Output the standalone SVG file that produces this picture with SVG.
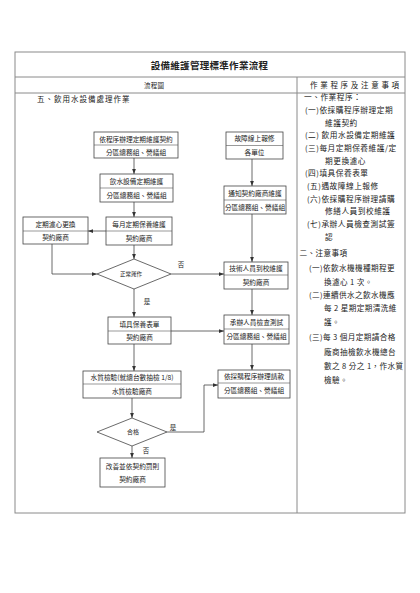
<svg xmlns="http://www.w3.org/2000/svg" width="420" height="593" viewBox="0 0 420 593">
<defs>
<style>
text{font-family:"Noto Sans CJK TC","Liberation Sans",sans-serif;fill:#222;}
.tbl{fill:none;stroke:#8a8a8a;stroke-width:1;}
.box{fill:#fff;stroke:#444;stroke-width:0.8;}
.div{stroke:#555;stroke-width:0.6;}
.bt{font-size:6.7px;text-anchor:middle;}
.con{fill:none;stroke:#444;stroke-width:0.8;}
.lbl{font-size:6.5px;text-anchor:middle;}
.r1{font-size:7.7px;letter-spacing:0.5px;}
.r2{font-size:7.6px;letter-spacing:0.4px;}
</style>
<marker id="arr" viewBox="0 0 8 6" refX="8" refY="3" markerWidth="5" markerHeight="4" markerUnits="userSpaceOnUse" orient="auto">
<path d="M0,0 L8,3 L0,6 z" fill="#333"/>
</marker>
</defs>
<rect width="420" height="593" fill="#fff"/>

<g id="table">
<rect class="tbl" x="15" y="52" width="390" height="461"/>
<line class="tbl" x1="15" y1="77" x2="405" y2="77"/>
<line class="tbl" x1="15" y1="93" x2="405" y2="93"/>
<line class="tbl" x1="297" y1="77" x2="297" y2="513"/>
<text x="150.7" y="68.6" style="font-size:9.5px;font-weight:bold;letter-spacing:0.3px">設備維護管理標準作業流程</text>
<text x="144" y="87.8" style="font-size:6.5px;letter-spacing:0.3px">流程圖</text>
<text x="310" y="88" style="font-size:7.5px;letter-spacing:2.7px">作業程序及注意事項</text>
<text x="37" y="102" style="font-size:7.5px;letter-spacing:1px">五、飲用水設備處理作業</text>
</g>

<g id="notes">
<text class="r1" x="304" y="100.3">一、作業程序：</text>
<text class="r1" x="305" y="113">(一)依採購程序辦理定期</text>
<text class="r1" x="325" y="125.7">維護契約</text>
<text class="r1" x="305" y="138.3">(二) 飲用水設備定期維護</text>
<text class="r1" x="305" y="151">(三)每月定期保養維護/定</text>
<text class="r1" x="325" y="163.7">期更換濾心</text>
<text class="r1" x="305" y="176.3">(四)填具保養表單</text>
<text class="r1" x="307" y="189">(五)遇故障線上報修</text>
<text class="r1" x="307" y="201.7">(六)依採購程序辦理請購</text>
<text class="r1" x="325" y="214.3">修繕人員到校維護</text>
<text class="r1" x="307" y="227">(七)承辦人員檢查測試簽</text>
<text class="r1" x="325" y="239.7">認</text>
<text class="r2" x="299.5" y="256.3">二、注意事項</text>
<text class="r2" x="309" y="271.3">(一)依飲水機機種期程更</text>
<text class="r2" x="324" y="284.7">換濾心 1 次。</text>
<text class="r2" x="309" y="298">(二)連續供水之飲水機應</text>
<text class="r2" x="324" y="311.3">每 2 星期定期清洗維</text>
<text class="r2" x="324" y="324.7">護。</text>
<text class="r2" x="309" y="340.3">(三)每 3 個月定期請合格</text>
<text class="r2" x="324" y="354.7">廠商抽檢飲水機總台</text>
<text class="r2" x="324" y="369">數之 8 分之 1，作水質</text>
<text class="r2" x="324" y="383">檢驗。</text>
</g>

<g id="connectors">
<line class="con" x1="134" y1="158" x2="134" y2="174" marker-end="url(#arr)"/>
<line class="con" x1="134" y1="202" x2="134" y2="217" marker-end="url(#arr)"/>
<line class="con" x1="106" y1="231" x2="88" y2="231" marker-end="url(#arr)"/>
<polyline class="con" points="52,244 52,274 97,274" marker-end="url(#arr)"/>
<line class="con" x1="134" y1="245" x2="134" y2="259" marker-end="url(#arr)"/>
<line class="con" x1="171" y1="274" x2="224" y2="274" marker-end="url(#arr)"/>
<line class="con" x1="134" y1="289" x2="134" y2="317" marker-end="url(#arr)"/>
<line class="con" x1="171" y1="331" x2="224" y2="331" marker-end="url(#arr)"/>
<line class="con" x1="134" y1="344" x2="134" y2="371" marker-end="url(#arr)"/>
<line class="con" x1="132" y1="398" x2="132" y2="418" marker-end="url(#arr)"/>
<polyline class="con" points="167,432 204,432 204,385 218,385" marker-end="url(#arr)"/>
<line class="con" x1="132" y1="446" x2="132" y2="458" marker-end="url(#arr)"/>
<line class="con" x1="252" y1="159" x2="252" y2="186" marker-end="url(#arr)"/>
<line class="con" x1="252" y1="214" x2="252" y2="262" marker-end="url(#arr)"/>
<line class="con" x1="252" y1="289" x2="252" y2="315" marker-end="url(#arr)"/>
<line class="con" x1="252" y1="344" x2="252" y2="370" marker-end="url(#arr)"/>
<text class="lbl" x="181" y="267">否</text>
<text class="lbl" x="147" y="304">是</text>
<text class="lbl" x="173" y="429.5">是</text>
<text class="lbl" x="146" y="452.5">否</text>
</g>

<g id="n1">
<rect class="box" x="94" y="132" width="84" height="26"/>
<line class="div" x1="94" y1="145" x2="178" y2="145"/>
<text class="bt" x="136" y="141.5">依程序辦理定期維護契約</text>
<text class="bt" x="136" y="154.5">分區總務組、營繕組</text>
</g>
<g id="n2">
<rect class="box" x="100" y="174" width="73" height="28"/>
<line class="div" x1="100" y1="188" x2="173" y2="188"/>
<text class="bt" x="136.5" y="183.5">飲水設備定期維護</text>
<text class="bt" x="136.5" y="197.5">分區總務組、營繕組</text>
</g>
<g id="n3">
<rect class="box" x="106" y="217" width="66" height="28"/>
<line class="div" x1="106" y1="231" x2="172" y2="231"/>
<text class="bt" x="139" y="226.5">每月定期保養維護</text>
<text class="bt" x="139" y="240.5">契約廠商</text>
</g>
<g id="n4">
<rect class="box" x="23" y="217" width="65" height="27"/>
<line class="div" x1="23" y1="231" x2="88" y2="231"/>
<text class="bt" x="55.5" y="226.5">定期濾心更換</text>
<text class="bt" x="55.5" y="240">契約廠商</text>
</g>
<g id="d1">
<polygon class="box" points="97,274 134,259 171,274 134,289"/>
<text x="131" y="276" style="font-size:5.5px;text-anchor:middle">正常運作</text>
</g>
<g id="n5">
<rect class="box" x="108" y="317" width="63" height="27"/>
<line class="div" x1="108" y1="331" x2="171" y2="331"/>
<text class="bt" x="139.5" y="326.5">填具保養表單</text>
<text class="bt" x="139.5" y="340">契約廠商</text>
</g>
<g id="n6">
<rect class="box" x="83" y="371" width="98" height="27"/>
<line class="div" x1="83" y1="384" x2="181" y2="384"/>
<text class="bt" x="132" y="380.3">水質檢驗(就總台數抽檢 1/8)</text>
<text class="bt" x="132" y="393.5">水質檢驗廠商</text>
</g>
<g id="d2">
<polygon class="box" points="97,432 132,418 167,432 132,446"/>
<text x="133" y="434.3" style="font-size:6px;text-anchor:middle">合格</text>
</g>
<g id="n7">
<rect class="box" x="100" y="458" width="65" height="29"/>
<text class="bt" x="132.5" y="469">改善並依契約罰則</text>
<text class="bt" x="132.5" y="481.5">契約廠商</text>
</g>
<g id="n8">
<rect class="box" x="226" y="132" width="57" height="27"/>
<line class="div" x1="226" y1="145.5" x2="283" y2="145.5"/>
<text class="bt" x="254.5" y="141.3">故障線上報修</text>
<text class="bt" x="254.5" y="154.7">各單位</text>
</g>
<g id="n9">
<rect class="box" x="224" y="186" width="62" height="28"/>
<line class="div" x1="224" y1="200" x2="286" y2="200"/>
<text class="bt" x="255" y="195.5">通知契約廠商維護</text>
<text class="bt" x="255" y="209.5">分區總務組、營繕組</text>
</g>
<g id="n10">
<rect class="box" x="224" y="262" width="64" height="27"/>
<line class="div" x1="224" y1="275" x2="288" y2="275"/>
<text class="bt" x="256" y="271">技術人員到校維護</text>
<text class="bt" x="256" y="284.5">契約廠商</text>
</g>
<g id="n11">
<rect class="box" x="224" y="315" width="65" height="29"/>
<line class="div" x1="224" y1="329" x2="289" y2="329"/>
<text class="bt" x="256.5" y="324.5">承辦人員檢查測試</text>
<text class="bt" x="256.5" y="339">分區總務組、營繕組</text>
</g>
<g id="n12">
<rect class="box" x="218" y="370" width="72" height="28"/>
<line class="div" x1="218" y1="383" x2="290" y2="383"/>
<text class="bt" x="254" y="379">依採購程序辦理請款</text>
<text class="bt" x="254" y="393">分區總務組、營繕組</text>
</g>
</svg>
